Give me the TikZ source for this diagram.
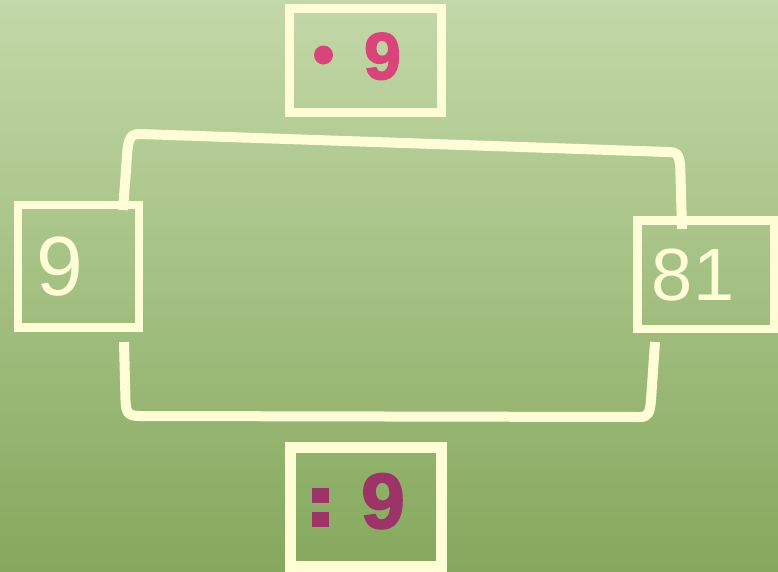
\documentclass[tikz,border=0pt]{standalone}
\usepackage{fontspec}
\setmainfont{Liberation Sans}
\newfontfamily\heavyfont[FakeBold=2.5]{Liberation Sans Bold}
\definecolor{bgtop}{HTML}{C3D8A8}
\definecolor{bgbot}{HTML}{85A85D}
\definecolor{cream}{HTML}{FFFDD6}
\definecolor{pinkc}{HTML}{D9447A}
\definecolor{plum}{HTML}{9C3468}
\tikzset{
  box/.style={draw=cream, rectangle, inner sep=0pt, line width=#1},
  box/.default=8.5pt,
  link/.style={draw=cream, line width=10pt, line join=round, line cap=butt},
  numtxt/.style={text=cream, inner sep=0pt, font=\fontsize{#1}{#1}\selectfont},
  optxt/.style={inner sep=0pt, font=\heavyfont\fontsize{#1}{#1}\selectfont}
}
\begin{document}
\begin{tikzpicture}[x=1pt,y=-1pt]
\useasboundingbox (0,0) rectangle (778,571);
\shade[top color=bgtop, bottom color=bgbot] (0,0) rectangle (778,571);
% boxes
\node[box=9pt, minimum width=152pt, minimum height=104pt] (top) at (365.5,60.5) {};
\node[box=11pt, minimum width=151.5pt, minimum height=118.5pt] (bot) at (365.75,506.75) {};
\node[box=8.5pt, minimum width=121pt, minimum height=122.5pt] (lbox) at (78.5,266.25) {};
\node[box=8.5pt, minimum width=136.5pt, minimum height=108.5pt] (rbox) at (705.75,274.75) {};
% texts
\node[numtxt=84pt, anchor=base] (ltxt) at (60,295) {9};
\node[numtxt=74pt, anchor=base] (rtxt) at (693,300) {81};
\node[optxt=66pt, text=pinkc, anchor=base] (ttxt) at (382.5,79) {9};
\fill[pinkc] (323.5,55) circle (9.5pt);
\node[inner sep=0pt] (tdot) at (323.5,55) {};
\node[optxt=78pt, text=plum, anchor=base] (btxt) at (383,528) {9};
\fill[plum] (312,488) rectangle (329,503);
\fill[plum] (312,512) rectangle (329,527);
\node[inner sep=0pt] (bcolon) at (320.5,507.5) {};
% connectors
\coordinate (a1) at (123,210);
\coordinate (a2) at (682,229);
\coordinate (b1) at (124,342);
\coordinate (b2) at (655,342);
\draw[link] (a1) -- (126,170) .. controls (128,140) and (128,134) .. (140,134)
  -- (668,152) .. controls (679,152) and (680,156) .. (680.5,175) -- (a2);
\draw[link] (b1) -- (125.5,400) .. controls (126,413) and (128,416) .. (140,416)
  -- (640,417) .. controls (648,417) and (650,413) .. (651,400) -- (b2);
\end{tikzpicture}
\end{document}
